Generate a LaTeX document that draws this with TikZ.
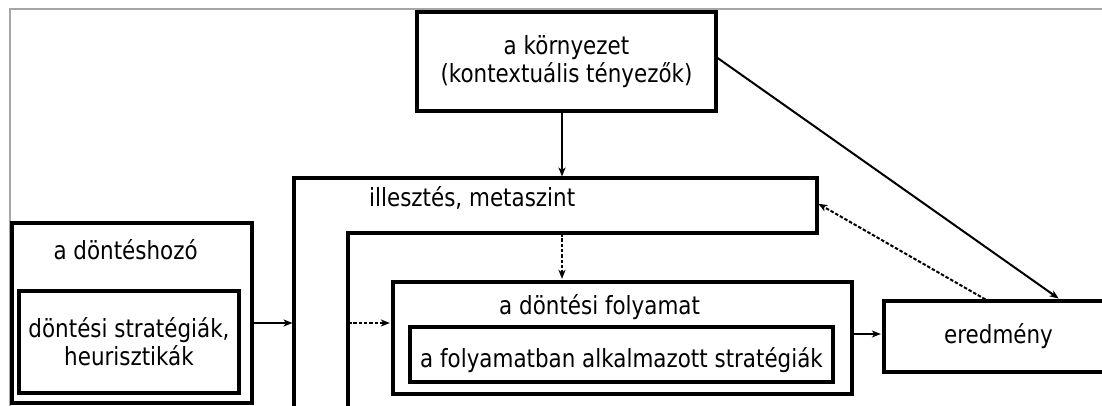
\documentclass[tikz,border=0pt]{standalone}
\usepackage{fontspec}
\setmainfont[FakeStretch=0.858]{DejaVu Sans}
\usetikzlibrary{arrows.meta,calc}
\begin{document}
\begin{tikzpicture}[x=1pt,y=-1pt,
  every node/.style={font=\fontsize{25}{28.3}\selectfont, inner sep=0pt},
  frame/.style={draw, line width=3.2pt, rectangle},
  lbl/.style={anchor=base west},
  conn/.style={line width=2pt, shorten >=1.5pt, -{Stealth[length=9pt,width=7pt,inset=2.5pt]}},
  dconn/.style={conn, dash pattern=on 3.5pt off 1.8pt}]
\useasboundingbox (0,0) rectangle (1102,405);
\clip (0,0) rectangle (1102,405);
% page edge
\draw[line width=2pt, color=black!35] (9.5,407) -- (9.5,8.5) -- (1104,8.5);

% environment
\node[frame, minimum width=299pt, minimum height=99pt, align=center] (env) at (566.5,61.5)
  {a környezet\\(kontextuális tényezők)};

% decision maker
\node[frame, minimum width=240pt, minimum height=180pt] (dh) at (132,313) {};
\node[lbl] (dhl) at (53.3,259.5) {a döntéshozó};
\node[frame, minimum width=220pt, minimum height=102pt, align=center] (ds) at (129,342)
  {döntési stratégiák,\\heurisztikák};

% meta level
\coordinate (msBL) at (294,412);
\coordinate (msTL) at (294,178);
\coordinate (msTR) at (817,178);
\coordinate (msBR) at (817,233);
\coordinate (msIB) at (348,233);
\coordinate (msIL) at (348,412);
\draw[line width=3.2pt, line join=miter] (msBL) -- (msTL) -- (msTR) -- (msBR) -- (msIB) -- (msIL);
\node[lbl] (msl) at (369,206) {illesztés, metaszint};

% decision process
\node[frame, minimum width=459pt, minimum height=112pt] (fo) at (622.5,338) {};
\node[lbl] (fol) at (499,314) {a döntési folyamat};
\node[frame, minimum width=423pt, minimum height=55pt, text height=25pt, text depth=0pt] (fi) at (621.5,354.5)
  {a folyamatban alkalmazott stratégiák};

% outcome
\node[frame, minimum width=229pt, minimum height=71pt, text height=13pt, text depth=0pt] (erd) at (998.5,336.5)
  {eredmény};

% connectors
\coordinate (yA) at (0,323);
\coordinate (msTop) at (562,178);
\coordinate (msRight) at (817,203);
\draw[conn] (env.south -| msTop) -- (msTop);
\draw[conn] ([yshift=3.5pt]env.east) -- ([xshift=177.5pt]erd.north west);
\draw[conn] (dh.east |- yA) -- (msTL |- yA);
\draw[dconn] (msTop |- msIB) -- (msTop |- fo.north);
\draw[dconn] (msIB |- yA) -- (fo.west |- yA);
\draw[conn] ([yshift=4pt]fo.east) -- ([yshift=4pt]fo.east -| erd.west);
\draw[dconn] ([xshift=103pt]erd.north west) -- (msRight);
\end{tikzpicture}
\end{document}
